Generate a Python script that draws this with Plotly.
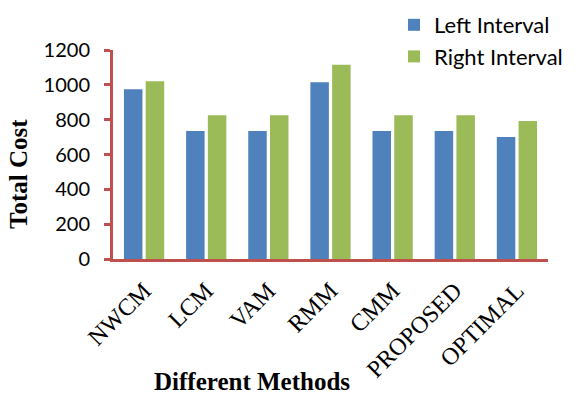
import plotly.graph_objects as go

methods = ["NWCM", "LCM", "VAM", "RMM", "CMM", "PROPOSED", "OPTIMAL"]
left_interval = [975, 735, 735, 1015, 735, 735, 700]
right_interval = [1020, 825, 825, 1115, 825, 825, 792]
y_ticks = [0, 200, 400, 600, 800, 1000, 1200]

axis_red = "#C0504D"

fig = go.Figure()
fig.add_trace(go.Bar(name="Left Interval", x=methods, y=left_interval,
                     marker=dict(color="#4F81BD", line=dict(width=0))))
fig.add_trace(go.Bar(name="Right Interval", x=methods, y=right_interval,
                     marker=dict(color="#9BBB59", line=dict(width=0))))

fig.update_layout(
    width=577, height=398,
    margin=dict(l=113, r=29, t=50, b=139, autoexpand=False),
    paper_bgcolor="white", plot_bgcolor="white",
    barmode="group", bargap=0.3, bargroupgap=0.15,
    showlegend=True,
    legend=dict(xref="container", yref="container",
                x=394 / 577, y=1 - 4 / 398, xanchor="left", yanchor="top",
                font=dict(family="Lato", size=22, color="black"),
                itemsizing="constant", tracegroupgap=0,
                bgcolor="rgba(0,0,0,0)"),
    xaxis=dict(showline=True, linecolor=axis_red, linewidth=3,
               tickangle=-45, ticks="", automargin=False,
               ticklabelstandoff=5,
               tickfont=dict(family="Liberation Serif", size=24, color="black"),
               showgrid=False, zeroline=False),
    yaxis=dict(range=[0, 1200], tickvals=y_ticks, showline=True,
               linecolor=axis_red, linewidth=3, ticks="outside",
               tickcolor=axis_red, tickwidth=3, ticklen=6, automargin=False,
               ticklabelstandoff=10,
               tickfont=dict(family="Lato", size=20, color="black"),
               showgrid=False, zeroline=False),
    annotations=[
        dict(text="<b>Total Cost</b>", xref="paper", yref="paper",
             x=(18 - 113) / 435, y=(259 - 174) / 209, textangle=-90,
             xanchor="center", yanchor="middle", showarrow=False,
             font=dict(family="Liberation Serif", size=25, color="black")),
        dict(text="<b>Different Methods</b>", xref="paper", yref="paper",
             x=(252 - 113) / 435, y=-(397 - 259) / 209,
             xanchor="center", yanchor="bottom", showarrow=False,
             font=dict(family="Liberation Serif", size=25, color="black")),
    ],
)

fig.write_html("out.html")
